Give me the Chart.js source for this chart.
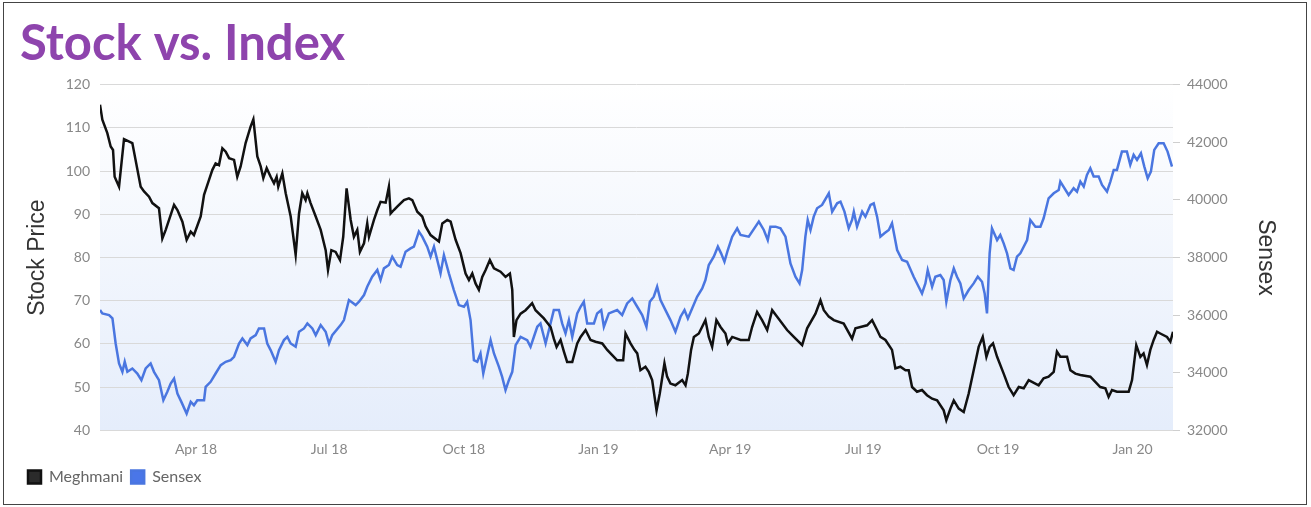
<!DOCTYPE html>
<html>
<head>
<meta charset="utf-8">
<script src="https://cdn.jsdelivr.net/npm/chart.js@4.4.1/dist/chart.umd.min.js"></script>
<style>
  html, body { margin: 0; padding: 0; background: #fff; }
  #wrap { position: relative; width: 1311px; height: 507px; }
  #frame { position: absolute; left: 3px; top: 2px; width: 1302px; height: 501px; border: 1px solid #444; pointer-events: none; }
</style>
</head>
<body>
<div id="wrap">
  <canvas id="stockChart" width="1311" height="507"></canvas>
  <div id="frame"></div>
</div>
<script>
// days counted from 1 Jan 2018
const tickDays = [90, 181, 273, 365, 455, 546, 638, 730];
const tickLabels = ["Apr 18", "Jul 18", "Oct 18", "Jan 19", "Apr 19", "Jul 19", "Oct 19", "Jan 20"];

// Meghmani closing price
const meghDays = [24.4,26.0,29.4,31.7,33.3,34.4,37.4,40.8,46.5,52.2,54.5,57.9,60.2,64.7,67.0,69.3,75.0,77.3,80.7,83.6,86.4,88.6,93.2,95.5,98.9,101.2,103.4,105.7,108.0,110.3,112.6,116.0,118.2,120.5,123.9,127.3,129.2,131.9,134.2,136.0,138.3,141.0,143.3,145.1,146.2,149.0,151.3,154.7,158.1,160.4,162.6,164.9,166.1,168.3,171.8,175.2,178.6,180.2,182.5,185.4,188.4,190.6,192.9,195.7,197.9,200.2,202.0,204.8,207.0,208.2,211.6,213.9,216.1,219.6,221.8,223.0,225.2,227.5,232.1,235.5,237.8,241.2,244.6,246.9,250.3,256.0,258.3,261.7,264.0,267.4,270.8,274.2,276.5,278.8,281.0,283.3,285.6,287.9,290.8,293.6,298.1,301.5,304.5,306.1,307.2,309.0,311.8,315.2,317.5,319.7,322.0,327.7,332.3,334.5,336.4,339.1,341.4,343.6,347.1,350.5,352.8,356.2,359.6,363.0,367.6,371.0,374.4,377.8,381.9,383.5,386.9,389.6,391.5,393.7,397.1,399.4,401.7,404.7,406.9,410.1,411.9,414.2,417.6,422.2,424.5,426.1,428.3,430.2,433.6,438.1,440.4,442.7,445.6,448.4,451.8,453.4,456.4,462.1,467.7,470.0,473.4,476.8,480.3,483.7,487.1,493.9,498.5,504.2,507.6,513.3,516.7,519.0,522.4,525.8,532.6,538.3,540.6,548.6,552.0,555.4,557.7,561.1,565.6,567.9,571.3,574.8,577.0,579.3,582.7,586.1,589.5,593.0,596.4,600.9,602.7,605.5,607.8,611.2,614.6,618.0,621.4,624.8,627.6,630.1,632.3,634.6,637.4,641.9,645.3,648.7,652.2,655.6,659.0,665.8,669.2,672.6,676.1,678.3,680.6,685.2,687.5,690.9,694.3,701.1,704.5,707.9,711.4,713.6,715.9,719.3,727.3,729.6,732.5,735.3,737.5,739.8,742.1,744.4,746.7,748.9,753.5,755.8,757.6];
const meghPrice = [115.4,111.9,108.8,105.7,104.9,98.7,96.4,107.4,106.5,96.4,95.3,94.1,92.6,91.4,84.4,86.4,92.2,91.0,88.3,84.1,86.0,85.2,89.5,94.5,98.0,100.3,101.8,101.4,105.3,104.5,103.0,102.6,98.7,101.1,106.5,110.3,112.0,103.4,101.1,98.4,100.7,98.7,97.2,98.7,96.4,99.5,94.9,89.5,80.6,90.2,94.9,93.3,94.9,92.6,89.5,86.4,81.7,77.1,81.7,81.3,79.4,84.8,96.0,88.7,84.8,86.4,81.3,83.3,87.9,84.8,88.7,91.0,92.9,92.7,96.4,90.2,91.0,91.8,93.3,93.7,93.3,90.6,89.5,87.2,85.2,83.7,87.9,88.7,88.3,84.1,81.0,76.3,74.8,76.3,74.0,72.5,75.5,77.1,79.4,77.5,76.7,75.5,76.3,72.5,61.6,65.5,67.0,67.8,68.6,69.4,67.8,65.9,63.9,61.2,59.3,60.9,58.2,55.8,55.8,60.1,61.6,63.2,60.9,60.5,60.1,58.6,57.4,56.2,56.2,62.4,60.1,58.6,57.8,53.9,54.7,53.5,51.6,44.6,48.5,55.5,52.4,50.8,50.4,51.6,50.4,53.1,58.6,61.6,62.4,65.5,61.6,59.3,65.5,63.9,62.4,60.1,61.6,60.9,60.9,63.9,67.4,65.5,63.2,67.8,66.3,63.2,61.6,59.7,63.6,67.0,70.1,67.8,66.3,65.5,64.7,61.2,63.6,64.3,65.5,63.2,61.6,60.9,58.6,54.3,54.7,53.9,53.9,50.0,48.9,49.3,48.1,47.3,46.9,44.6,42.3,45.0,46.9,45.0,44.2,48.5,53.9,59.3,61.6,57.0,59.3,60.1,57.0,53.1,50.0,48.1,50.0,49.7,51.6,50.4,52.0,52.4,53.5,58.2,57.0,57.0,53.9,53.1,52.8,52.4,51.2,50.0,49.7,47.7,49.3,48.9,48.9,51.6,59.7,57.0,57.8,55.1,58.6,60.9,62.8,62.4,61.6,60.5,62.8];

// Sensex close
const sensexDays = [24.4,26.0,30.6,32.9,35.1,37.4,39.7,41.3,43.1,46.5,49.9,52.7,55.6,59.0,61.3,64.7,67.7,70.4,72.7,75.0,77.3,80.0,83.6,86.4,88.6,90.9,95.5,96.6,100.0,103.4,106.9,110.3,113.7,116.0,119.4,121.7,125.1,127.3,130.8,133.0,136.5,138.7,141.0,144.4,146.7,150.1,152.4,154.7,158.1,160.4,163.8,166.1,169.5,171.8,175.2,178.6,180.9,183.1,188.8,191.1,194.5,199.1,201.4,204.8,207.0,210.4,213.9,216.1,218.4,221.8,224.1,227.5,229.8,233.2,236.6,238.9,242.3,244.6,248.0,250.3,252.6,257.1,259.4,262.8,266.2,269.6,273.1,275.3,277.6,279.9,282.2,284.4,286.3,291.3,293.6,297.0,299.2,301.5,303.8,306.1,308.4,311.8,316.3,318.6,320.9,323.2,325.4,328.9,334.5,338.0,340.2,342.5,344.8,347.1,350.5,352.8,355.0,357.3,361.9,364.1,366.9,368.7,372.1,377.8,381.2,384.6,388.1,391.5,394.9,397.8,400.1,402.8,405.1,407.4,410.8,414.2,417.6,421.1,423.8,426.1,429.0,432.4,435.9,438.1,440.4,443.8,446.6,448.8,451.1,453.4,456.4,459.8,462.1,467.7,474.6,478.0,480.7,482.5,486.0,489.4,492.8,496.2,499.6,502.4,504.2,506.4,508.0,509.9,512.1,514.4,517.8,522.4,524.7,528.1,530.4,533.1,536.0,538.3,539.5,541.7,545.2,547.4,550.9,553.1,555.4,557.7,560.4,563.4,565.6,569.1,572.5,575.9,580.4,583.8,586.1,588.4,590.0,593.0,595.2,598.6,600.9,602.7,605.5,607.8,610.0,612.3,614.6,618.0,621.4,624.2,627.1,628.9,630.5,632.3,633.9,637.4,639.6,641.9,644.2,646.5,648.7,651.0,653.3,657.9,660.1,663.6,667.0,669.2,672.6,676.1,679.5,680.6,686.3,689.7,692.0,694.3,696.6,698.8,701.1,703.4,706.8,709.1,712.5,714.8,717.1,719.3,722.7,726.1,728.4,730.7,733.0,735.7,738.0,740.3,742.5,744.8,747.8,751.2,753.9,756.9];
const sensexValue = [36173,36057,36000,35883,35013,34318,34028,34376,34028,34144,33970,33738,34144,34318,34028,33738,33043,33333,33623,33796,33275,32985,32579,32985,32869,33043,33043,33506,33681,33970,34260,34376,34434,34550,35013,35188,34956,35188,35304,35535,35535,35013,34782,34376,34782,35130,35246,35013,34898,35420,35535,35710,35535,35304,35651,35420,35013,35304,35651,35826,36521,36347,36463,36695,36985,37333,37565,37217,37622,37738,38028,37738,37680,38202,38318,38376,38898,38724,38376,38028,38376,37449,38086,37449,36869,36347,36289,36463,35826,34434,34376,34666,33970,35130,34666,34202,33854,33391,33738,34028,34956,35246,35130,34898,35246,35593,35710,35013,36173,36173,35710,35362,35826,35246,36057,36289,36463,35710,35710,36057,36173,35593,36057,36173,36000,36405,36579,36289,36000,35594,36463,36637,36984,36521,36173,35826,35420,35942,36173,35884,36231,36637,36926,37217,37738,38028,38376,38144,37854,38260,38724,39014,38782,38724,39246,38956,38608,39072,39072,39014,38724,37796,37333,37101,37565,38724,39304,38956,39419,39709,39826,40231,39593,39883,39941,39593,39014,39304,39593,39072,39593,39419,39826,39883,39419,38724,38840,38956,39188,38260,37912,37854,37333,36985,36753,37101,37565,36985,37333,37391,37217,36463,37217,37623,37333,37101,36579,36869,37101,37333,37159,36753,36057,38144,39014,38608,38782,38492,38144,37623,37565,38028,38144,38608,39304,39072,39072,39362,40057,40231,40347,40637,40173,40405,40289,40637,40463,40869,41101,40811,40811,40521,40289,40637,41043,41043,41680,41680,41217,41564,41391,41622,41159,40753,40985,41738,41970,41970,41680,41159];

const tickFont = { family: "Lato", size: 14 };
const axisTitleFont = { family: "Liberation Sans", size: 23 };

// light blue wash behind the lines
const plotBackground = {
  id: "plotBackground",
  beforeDraw(chart) {
    const { ctx, chartArea } = chart;
    if (!chartArea) return;
    const g = ctx.createLinearGradient(0, chartArea.top, 0, chartArea.bottom);
    g.addColorStop(0, "#ffffff");
    g.addColorStop(1, "#e5edfb");
    ctx.save();
    ctx.fillStyle = g;
    ctx.fillRect(chartArea.left, chartArea.top, chartArea.right - chartArea.left, chartArea.bottom - chartArea.top);
    ctx.restore();
  }
};

new Chart(document.getElementById("stockChart"), {
  type: "line",
  data: {
    datasets: [
      {
        label: "Meghmani",
        data: meghDays.map((d, i) => ({ x: d, y: meghPrice[i] })),
        borderColor: "#111111",
        backgroundColor: "#2b2b2b",
        borderWidth: 2.5,
        pointRadius: 0,
        yAxisID: "y"
      },
      {
        label: "Sensex",
        data: sensexDays.map((d, i) => ({ x: d, y: sensexValue[i] })),
        borderColor: "#4a76e0",
        backgroundColor: "#4a76e8",
        borderWidth: 2.5,
        pointRadius: 0,
        yAxisID: "y1"
      }
    ]
  },
  options: {
    responsive: false,
    animation: false,
    layout: { padding: { left: 20, right: 28, top: 0, bottom: 12 } },
    plugins: {
      title: {
        display: true,
        text: "Stock vs. Index",
        align: "start",
        color: "#8e44ad",
        font: { family: "Lato", size: 49, weight: "bold" },
        padding: { top: 15, bottom: 11 }
      },
      legend: {
        position: "bottom",
        align: "start",
        labels: {
          boxWidth: 13,
          boxHeight: 13,
          padding: 8,
          color: "#666",
          font: { family: "Lato", size: 16 }
        }
      },
      tooltip: { enabled: false }
    },
    scales: {
      x: {
        type: "linear",
        min: 24.4,
        max: 757.6,
        afterBuildTicks: (scale) => { scale.ticks = tickDays.map(v => ({ value: v })); },
        ticks: {
          callback: (v) => tickLabels[tickDays.indexOf(v)],
          color: "#888",
          font: tickFont,
          maxRotation: 0,
          padding: 3
        },
        grid: { display: false },
        border: { display: false }
      },
      y: {
        position: "left",
        min: 40,
        max: 120,
        afterFit: (scale) => { scale.width = 80; },
        ticks: { stepSize: 10, color: "#888", font: tickFont, padding: 10 },
        grid: { color: "#d9d9d9", drawTicks: false },
        border: { display: false },
        title: { display: true, text: "Stock Price", color: "#333", font: axisTitleFont }
      },
      y1: {
        position: "right",
        min: 32000,
        max: 44000,
        afterFit: (scale) => { scale.width = 110; },
        ticks: { stepSize: 2000, color: "#888", font: tickFont, padding: 7, callback: (v) => String(v) },
        grid: { drawOnChartArea: false, color: "#cfcfcf", tickLength: 7 },
        border: { display: false },
        title: { display: true, text: "Sensex", color: "#333", font: axisTitleFont }
      }
    }
  },
  plugins: [plotBackground]
});
</script>
</body>
</html>
